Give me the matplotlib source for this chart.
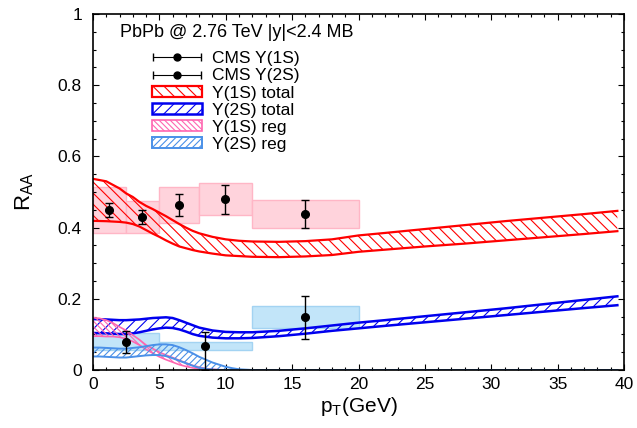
import numpy as np
import matplotlib
matplotlib.use('Agg')
import matplotlib.pyplot as plt
from matplotlib.patches import Patch
from matplotlib.legend_handler import HandlerErrorbar
from matplotlib.ticker import MultipleLocator, FormatStrFormatter

plt.rcParams['font.family'] = ['Liberation Sans', 'DejaVu Sans']
plt.rcParams['mathtext.default'] = 'regular'
plt.rcParams['hatch.linewidth'] = 0.8

# CMS data points (stat errors) and systematic boxes
pt_1s = [1.2, 3.7, 6.45, 9.95, 16.0]
raa_1s = [0.449, 0.429, 0.463, 0.479, 0.438]
stat_1s = [0.02, 0.02, 0.03, 0.04, 0.04]
bins_1s = [0, 2.5, 5, 8, 12, 20]
syst_1s = [0.065, 0.045, 0.05, 0.045, 0.04]

pt_2s = [2.45, 8.45, 16.0]
raa_2s = [0.079, 0.067, 0.148]
stat_2s_lo = [0.03, 0.067, 0.06]
stat_2s_hi = [0.03, 0.041, 0.06]
bins_2s = [0, 5, 12, 20]
syst_2s = [0.024, 0.012, 0.031]

# model bands: total
pt_tot = [0, 1, 2, 2.5, 3, 3.5, 4, 4.5, 5, 5.5, 6, 6.5, 7, 7.5, 8, 9, 10, 11, 12,
          14, 16, 18, 20, 22, 25, 28, 31, 34, 37, 39.5]
tot_1s_hi = [0.537, 0.530, 0.510, 0.496, 0.486, 0.472, 0.461, 0.452, 0.442, 0.432,
             0.421, 0.410, 0.400, 0.391, 0.384, 0.374, 0.367, 0.363, 0.361,
             0.360, 0.362, 0.367, 0.378, 0.385, 0.396, 0.407, 0.418, 0.428, 0.438, 0.447]
tot_1s_lo = [0.419, 0.418, 0.416, 0.414, 0.410, 0.403, 0.393, 0.383, 0.374, 0.364,
             0.355, 0.347, 0.342, 0.337, 0.333, 0.327, 0.322, 0.320, 0.318,
             0.317, 0.319, 0.323, 0.332, 0.338, 0.347, 0.355, 0.364, 0.373, 0.382, 0.390]
tot_2s_hi = [0.143, 0.142, 0.140, 0.140, 0.141, 0.142, 0.144, 0.146, 0.147, 0.148,
             0.146, 0.140, 0.133, 0.126, 0.119, 0.111, 0.107, 0.106, 0.106,
             0.110, 0.117, 0.125, 0.133, 0.140, 0.151, 0.162, 0.173, 0.185, 0.197, 0.207]
tot_2s_lo = [0.104, 0.103, 0.101, 0.101, 0.103, 0.106, 0.110, 0.114, 0.117, 0.119,
             0.118, 0.114, 0.108, 0.101, 0.096, 0.091, 0.089, 0.089, 0.090,
             0.095, 0.102, 0.110, 0.117, 0.124, 0.134, 0.144, 0.154, 0.164, 0.174, 0.182]

# model bands: regeneration
pt_reg = [0, 0.5, 1, 1.5, 2, 2.5, 3, 3.5, 4, 4.5, 5, 5.5, 6, 6.5, 7, 7.5, 8, 8.5,
          9, 9.5, 10, 10.5, 11, 12, 15, 20, 25, 30, 35, 39.5]
reg_1s_hi = [0.147, 0.145, 0.140, 0.132, 0.121, 0.111, 0.098, 0.085, 0.070, 0.060,
             0.050, 0.042, 0.035, 0.027, 0.020, 0.013, 0.008, 0.004,
             0.002, 0.001, 0.0, 0.0, 0.0, 0.0, 0.0, 0.0, 0.0, 0.0, 0.0, 0.0]
reg_1s_lo = [0.095, 0.095, 0.094, 0.094, 0.092, 0.088, 0.080, 0.070, 0.058, 0.047,
             0.037, 0.029, 0.022, 0.015, 0.010, 0.006, 0.003, 0.001,
             0.0, 0.0, 0.0, 0.0, 0.0, 0.0, 0.0, 0.0, 0.0, 0.0, 0.0, 0.0]
reg_2s_hi = [0.063, 0.063, 0.062, 0.061, 0.060, 0.060, 0.062, 0.064, 0.067, 0.070,
             0.072, 0.072, 0.070, 0.064, 0.056, 0.047, 0.037, 0.029,
             0.021, 0.015, 0.009, 0.005, 0.002, 0.0, 0.0, 0.0, 0.0, 0.0, 0.0, 0.0]
reg_2s_lo = [0.038, 0.038, 0.037, 0.036, 0.035, 0.035, 0.037, 0.039, 0.041, 0.042,
             0.042, 0.039, 0.033, 0.026, 0.019, 0.012, 0.006, 0.003,
             0.001, 0.0, 0.0, 0.0, 0.0, 0.0, 0.0, 0.0, 0.0, 0.0, 0.0, 0.0]

fig = plt.figure(figsize=(6.37, 4.28), dpi=100)
ax = fig.add_axes([93 / 637, 58 / 428, 531 / 637, 356 / 428])

# systematic boxes
b1 = np.array(bins_1s)
ax.bar(b1[:-1], 2 * np.array(syst_1s), width=np.diff(b1), bottom=np.array(raa_1s) - np.array(syst_1s),
       align='edge', color='#ffd3dc', edgecolor='#ffb6c6', linewidth=1, zorder=1)
b2 = np.array(bins_2s)
ax.bar(b2[:-1], 2 * np.array(syst_2s), width=np.diff(b2), bottom=np.array(raa_2s) - np.array(syst_2s),
       align='edge', color='#c2e5f9', edgecolor='#a3d3f2', linewidth=1, zorder=1)

bands = [
    (pt_tot, tot_1s_lo, tot_1s_hi, '#ff0000', '\\\\\\', 1.6, 'Y(1S) total'),
    (pt_tot, tot_2s_lo, tot_2s_hi, '#0000ee', '///', 1.8, 'Y(2S) total'),
    (pt_reg, reg_1s_lo, reg_1s_hi, '#ff66b0', '\\\\\\\\\\\\', 1.2, 'Y(1S) reg'),
    (pt_reg, reg_2s_lo, reg_2s_hi, '#4a90e8', '/////', 1.4, 'Y(2S) reg'),
]
band_handles = []
for x, lo, hi, col, hatch, lw, lab in bands:
    ax.fill_between(x, lo, hi, facecolor='none', edgecolor=col, hatch=hatch, linewidth=0, zorder=2)
    ax.plot(x, hi, color=col, lw=lw, zorder=2)
    ax.plot(x, lo, color=col, lw=lw, zorder=2)
    band_handles.append(Patch(facecolor='none', edgecolor=col, hatch=hatch, linewidth=lw, label=lab))

# data points
ax.errorbar(pt_1s, raa_1s, yerr=stat_1s, fmt='o', color='black', ms=5.5,
            elinewidth=1, capsize=3, capthick=1, zorder=4)
ax.errorbar(pt_2s, raa_2s, yerr=[stat_2s_lo, stat_2s_hi], fmt='o', color='black', ms=5.5,
            elinewidth=1, capsize=3, capthick=1, zorder=4)

# legend handles for the data (horizontal error bar style)
h1 = ax.errorbar([np.nan], [np.nan], xerr=[1], fmt='o', color='black', ms=5,
                 elinewidth=0.8, capsize=3, label='CMS Y(1S)')
h2 = ax.errorbar([np.nan], [np.nan], xerr=[1], fmt='o', color='black', ms=5,
                 elinewidth=0.8, capsize=3, label='CMS Y(2S)')

hl = 2.88
ax.legend([h1, h2] + band_handles,
          ['CMS Y(1S)', 'CMS Y(2S)'] + [b[-1] for b in bands],
          handler_map={h1: HandlerErrorbar(xerr_size=hl / 2 - 0.05),
                       h2: HandlerErrorbar(xerr_size=hl / 2 - 0.05)},
          loc='upper left', bbox_to_anchor=(0.1105, 0.895), borderpad=0, borderaxespad=0,
          frameon=False, fontsize=12.5, handlelength=hl, handletextpad=0.58,
          labelspacing=0.12, handleheight=0.65)

ax.text(0.051, 0.949, 'PbPb @ 2.76 TeV |y|<2.4 MB', transform=ax.transAxes,
        fontsize=13, va='center', ha='left')

ax.set_xlim(0, 40)
ax.set_ylim(0, 1)
ax.xaxis.set_major_locator(MultipleLocator(5))
ax.xaxis.set_minor_locator(MultipleLocator(1))
ax.yaxis.set_major_locator(MultipleLocator(0.2))
ax.yaxis.set_minor_locator(MultipleLocator(0.05))
ax.yaxis.set_major_formatter(FormatStrFormatter('%g'))
ax.tick_params(which='both', direction='in', top=True, right=True, labelsize=12.5, width=0.8)
ax.tick_params(which='major', length=4.5)
ax.tick_params(which='minor', length=2.2)
ax.tick_params(axis='y', pad=8)
ax.tick_params(axis='x', pad=5)
for s in ax.spines.values():
    s.set_linewidth(1.2)

ax.set_xlabel('$p_T$(GeV)', fontsize=15, labelpad=2)
ax.set_ylabel('$R_{AA}$', fontsize=16, labelpad=16)

fig.savefig('out.png', dpi=100)
